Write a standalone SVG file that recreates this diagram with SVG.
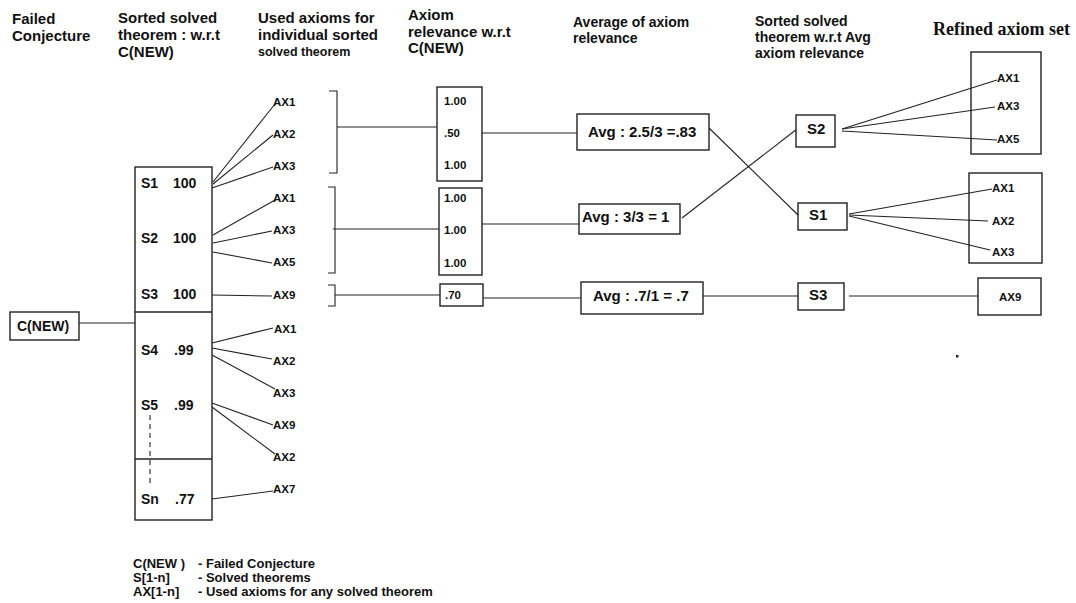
<svg xmlns="http://www.w3.org/2000/svg" width="1076" height="603" viewBox="0 0 1076 603">
<style>
text{font-family:"Liberation Sans",Arial,sans-serif;font-weight:bold;fill:#111}
.h{font-size:15px}
.hs{font-size:14px}
.s{font-size:14px}
.ax{font-size:11.5px}
.v{font-size:11.5px}
.avg{font-size:15px}
.lg{font-size:13px}
.ttl{font-family:"Liberation Serif","Times New Roman",serif;font-size:18px}
rect{fill:#fff;stroke:#222;stroke-width:1.4}
line,polyline{stroke:#222;stroke-width:1.1;fill:none}
</style>
<rect x="0" y="0" width="1076" height="603" style="fill:#fff;stroke:none"/>

<g id="headers">
<text class="h" x="12" y="24">Failed</text>
<text class="h" x="12" y="41">Conjecture</text>
<text class="h" x="118" y="23">Sorted solved</text>
<text class="h" x="118" y="40">theorem : w.r.t</text>
<text class="h" x="118" y="57">C(NEW)</text>
<text class="h" x="258" y="23">Used axioms for</text>
<text class="h" x="258" y="40">individual sorted</text>
<text x="258" y="56" style="font-size:12.5px">solved theorem</text>
<text class="h" x="408" y="20">Axiom</text>
<text class="h" x="408" y="37">relevance w.r.t</text>
<text class="h" x="408" y="53">C(NEW)</text>
<text class="hs" x="573" y="27">Average of axiom</text>
<text class="hs" x="573" y="43">relevance</text>
<text class="hs" x="755" y="26">Sorted solved</text>
<text class="hs" x="755" y="42">theorem w.r.t Avg</text>
<text class="hs" x="755" y="58">axiom relevance</text>
<text class="ttl" x="933" y="35">Refined axiom set</text>
</g>

<g id="connectors">
<line x1="79" y1="323" x2="135" y2="323"/>
<line x1="213" y1="182" x2="275" y2="104"/>
<line x1="213" y1="184" x2="273" y2="135"/>
<line x1="212" y1="188" x2="273" y2="167"/>
<line x1="213" y1="235" x2="275" y2="200"/>
<line x1="213" y1="243" x2="272" y2="231"/>
<line x1="213" y1="252" x2="272" y2="263"/>
<line x1="212" y1="295" x2="272" y2="296"/>
<line x1="212" y1="343" x2="273" y2="328"/>
<line x1="212" y1="348" x2="272" y2="359"/>
<line x1="212" y1="355" x2="275" y2="389"/>
<line x1="212" y1="403" x2="273" y2="425"/>
<line x1="212" y1="407" x2="275" y2="454"/>
<line x1="212" y1="499" x2="273" y2="491"/>
<polyline points="329,91 337,91 337,173 329,173"/>
<polyline points="328,187 335,187 335,273 328,273"/>
<polyline points="328,285 335,285 335,306 328,306"/>
<line x1="337" y1="127" x2="437" y2="127"/>
<line x1="333" y1="229" x2="439" y2="229"/>
<line x1="335" y1="295" x2="440" y2="295"/>
<line x1="482" y1="133" x2="577" y2="133"/>
<line x1="482" y1="224" x2="579" y2="224"/>
<line x1="483" y1="298" x2="581" y2="298"/>
<line x1="709" y1="128" x2="798" y2="215"/>
<line x1="682" y1="218" x2="797" y2="129"/>
<line x1="703" y1="296" x2="798" y2="296"/>
<line x1="842" y1="129" x2="997" y2="80"/>
<line x1="842" y1="129" x2="995" y2="107"/>
<line x1="842" y1="131" x2="997" y2="140"/>
<line x1="849" y1="214" x2="992" y2="189"/>
<line x1="849" y1="215" x2="988" y2="221"/>
<line x1="849" y1="216" x2="990" y2="250"/>
<line x1="849" y1="296" x2="993" y2="296"/>
</g>

<g id="cnew">
<rect x="10" y="312" width="69" height="28"/>
<text class="s" x="17" y="331">C(NEW)</text>
</g>

<g id="sorted-list">
<rect x="135" y="167" width="77" height="353"/>
<line x1="135" y1="312" x2="212" y2="312" style="stroke-width:1.4"/>
<line x1="135" y1="459" x2="212" y2="459" style="stroke-width:1.4"/>
<line x1="150" y1="415" x2="150" y2="483" style="stroke-dasharray:5,4"/>
<text class="s" x="141" y="188">S1</text><text class="s" x="173" y="188">100</text>
<text class="s" x="141" y="243">S2</text><text class="s" x="173" y="243">100</text>
<text class="s" x="141" y="299">S3</text><text class="s" x="173" y="299">100</text>
<text class="s" x="141" y="355">S4</text><text class="s" x="174" y="355">.99</text>
<text class="s" x="141" y="410">S5</text><text class="s" x="174" y="410">.99</text>
<text class="s" x="141" y="504">Sn</text><text class="s" x="175" y="504">.77</text>
</g>

<g id="used-axioms">
<text class="ax" x="273" y="106">AX1</text>
<text class="ax" x="273" y="138">AX2</text>
<text class="ax" x="273" y="170">AX3</text>
<text class="ax" x="273" y="202">AX1</text>
<text class="ax" x="273" y="234">AX3</text>
<text class="ax" x="273" y="266">AX5</text>
<text class="ax" x="273" y="299">AX9</text>
<text class="ax" x="274" y="333">AX1</text>
<text class="ax" x="273" y="365">AX2</text>
<text class="ax" x="273" y="397">AX3</text>
<text class="ax" x="273" y="429">AX9</text>
<text class="ax" x="273" y="461">AX2</text>
<text class="ax" x="273" y="493">AX7</text>
</g>

<g id="relevance-1">
<rect x="437" y="87" width="45" height="94"/>
<text class="v" x="444" y="105">1.00</text>
<text class="v" x="444" y="137">.50</text>
<text class="v" x="444" y="169">1.00</text>
</g>
<g id="relevance-2">
<rect x="439" y="188" width="43" height="87"/>
<text class="v" x="444" y="202">1.00</text>
<text class="v" x="444" y="234">1.00</text>
<text class="v" x="444" y="267">1.00</text>
</g>
<g id="relevance-3">
<rect x="440" y="284" width="43" height="22"/>
<text class="v" x="445" y="299">.70</text>
</g>

<g id="avg-1">
<rect x="577" y="114" width="132" height="36"/>
<text class="avg" x="588" y="137">Avg : 2.5/3 =.83</text>
</g>
<g id="avg-2">
<rect x="579" y="204" width="101" height="30"/>
<text class="avg" x="582" y="222">Avg : 3/3 = 1</text>
</g>
<g id="avg-3">
<rect x="581" y="282" width="122" height="32"/>
<text class="avg" x="593" y="301">Avg : .7/1 = .7</text>
</g>

<g id="s2-sorted">
<rect x="796" y="115" width="39" height="32"/>
<text class="avg" x="807" y="134">S2</text>
</g>
<g id="s1-sorted">
<rect x="798" y="203" width="49" height="27"/>
<text class="avg" x="809" y="220">S1</text>
</g>
<g id="s3-sorted">
<rect x="798" y="283" width="46" height="27"/>
<text class="avg" x="809" y="300">S3</text>
</g>

<g id="refined-1">
<rect x="971" y="52" width="70" height="102" style="fill:none"/>
<text class="ax" x="997" y="82">AX1</text>
<text class="ax" x="997" y="110">AX3</text>
<text class="ax" x="997" y="143">AX5</text>
</g>
<g id="refined-2">
<rect x="969" y="173" width="73" height="90" style="fill:none"/>
<text class="ax" x="992" y="192">AX1</text>
<text class="ax" x="992" y="225">AX2</text>
<text class="ax" x="992" y="256">AX3</text>
</g>
<g id="refined-3">
<rect x="978" y="278" width="63" height="37"/>
<text class="ax" x="999" y="301">AX9</text>
</g>

<rect x="956" y="355" width="2.5" height="2.5" style="fill:#222;stroke:none"/>

<g id="legend">
<text class="lg" x="133" y="568">C(NEW )</text>
<text class="lg" x="198" y="568">- Failed Conjecture</text>
<text class="lg" x="133" y="582">S[1-n]</text>
<text class="lg" x="198" y="582">- Solved theorems</text>
<text class="lg" x="133" y="596">AX[1-n]</text>
<text class="lg" x="198" y="596">- Used axioms for any solved theorem</text>
</g>
</svg>
